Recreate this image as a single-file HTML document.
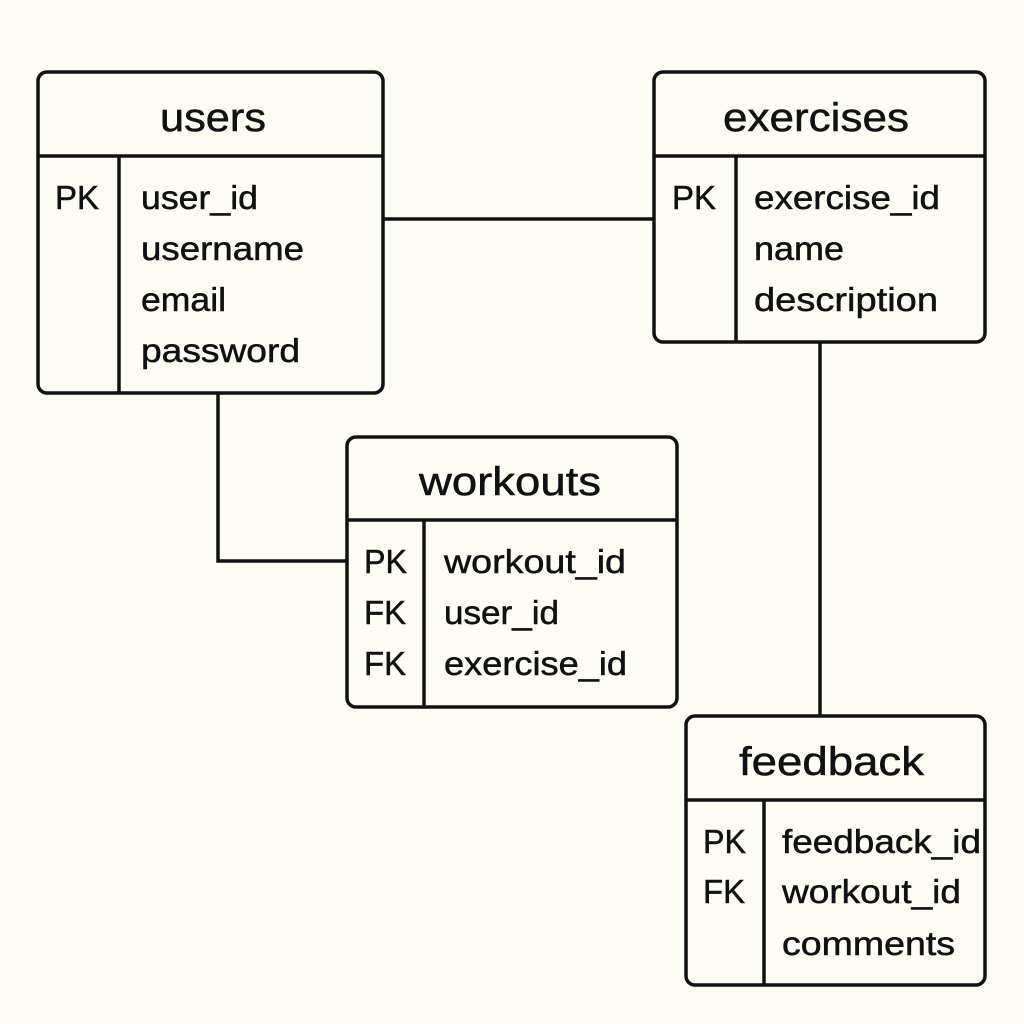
<!DOCTYPE html>
<html><head><meta charset="utf-8"><style>
html,body{margin:0;padding:0;background:#fdfcf5;}
svg{display:block}
text{font-family:"Liberation Sans","DejaVu Sans",sans-serif;fill:#111;stroke:#111;stroke-width:0.5;}
.h{font-size:40px}
.f{font-size:33px}
</style></head><body>
<svg width="1024" height="1024" viewBox="0 0 1024 1024">
<rect width="1024" height="1024" fill="#fdfcf5"/>
<g stroke="#111" stroke-width="3.5" fill="none">
<line x1="383" y1="219" x2="654" y2="219"/>
<polyline points="218,393 218,561 347,561"/>
<line x1="820" y1="342" x2="820" y2="716"/>
<rect x="38" y="72" width="345" height="321" rx="9"/>
<line x1="38" y1="156" x2="383" y2="156"/><line x1="119" y1="156" x2="119" y2="393"/>
<rect x="654" y="72" width="331" height="270" rx="9"/>
<line x1="654" y1="156" x2="985" y2="156"/><line x1="736" y1="156" x2="736" y2="342"/>
<rect x="347" y="437" width="330" height="270" rx="9"/>
<line x1="347" y1="520" x2="677" y2="520"/><line x1="424" y1="520" x2="424" y2="707"/>
<rect x="686" y="716" width="299" height="269" rx="9"/>
<line x1="686" y1="800" x2="985" y2="800"/><line x1="764" y1="800" x2="764" y2="985"/>
</g>
<g lengthAdjust="spacingAndGlyphs">
<text class="h" x="160" y="131" textLength="106" lengthAdjust="spacingAndGlyphs">users</text>
<text class="f" x="55" y="209" textLength="44" lengthAdjust="spacingAndGlyphs">PK</text>
<text class="f" x="141" y="209" textLength="117" lengthAdjust="spacingAndGlyphs">user_id</text>
<text class="f" x="141" y="260" textLength="163" lengthAdjust="spacingAndGlyphs">username</text>
<text class="f" x="141" y="311" textLength="85" lengthAdjust="spacingAndGlyphs">email</text>
<text class="f" x="141" y="362" textLength="159" lengthAdjust="spacingAndGlyphs">password</text>
<text class="h" x="723" y="131" textLength="186" lengthAdjust="spacingAndGlyphs">exercises</text>
<text class="f" x="672" y="209" textLength="44" lengthAdjust="spacingAndGlyphs">PK</text>
<text class="f" x="754" y="209" textLength="186" lengthAdjust="spacingAndGlyphs">exercise_id</text>
<text class="f" x="754" y="260" textLength="90" lengthAdjust="spacingAndGlyphs">name</text>
<text class="f" x="754" y="311" textLength="184" lengthAdjust="spacingAndGlyphs">description</text>
<text class="h" x="419" y="495" textLength="182" lengthAdjust="spacingAndGlyphs">workouts</text>
<text class="f" x="364" y="573" textLength="43" lengthAdjust="spacingAndGlyphs">PK</text>
<text class="f" x="364" y="624" textLength="42" lengthAdjust="spacingAndGlyphs">FK</text>
<text class="f" x="364" y="675" textLength="42" lengthAdjust="spacingAndGlyphs">FK</text>
<text class="f" x="444" y="573" textLength="182" lengthAdjust="spacingAndGlyphs">workout_id</text>
<text class="f" x="444" y="624" textLength="115" lengthAdjust="spacingAndGlyphs">user_id</text>
<text class="f" x="444" y="675" textLength="183" lengthAdjust="spacingAndGlyphs">exercise_id</text>
<text class="h" x="739" y="775" textLength="185" lengthAdjust="spacingAndGlyphs">feedback</text>
<text class="f" x="703" y="853" textLength="43" lengthAdjust="spacingAndGlyphs">PK</text>
<text class="f" x="703" y="903" textLength="42" lengthAdjust="spacingAndGlyphs">FK</text>
<text class="f" x="782" y="853" textLength="199" lengthAdjust="spacingAndGlyphs">feedback_id</text>
<text class="f" x="782" y="903" textLength="179" lengthAdjust="spacingAndGlyphs">workout_id</text>
<text class="f" x="782" y="955" textLength="173" lengthAdjust="spacingAndGlyphs">comments</text>
</g>
</svg>
</body></html>
